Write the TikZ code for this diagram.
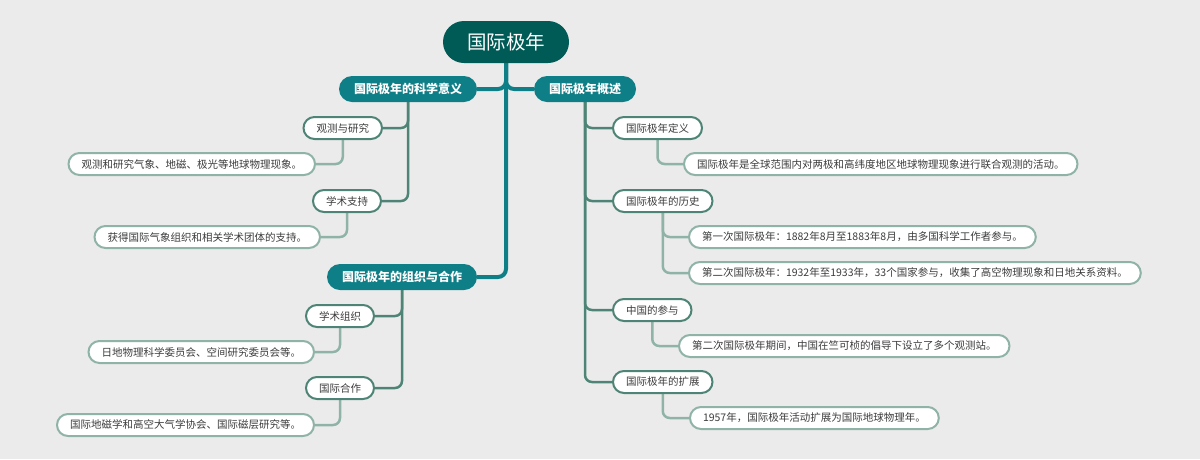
\documentclass[tikz,border=0pt]{standalone}
\usepackage{fontspec}
\setmainfont{Noto Sans CJK SC}
\usetikzlibrary{backgrounds}
\definecolor{bgcol}{RGB}{235,235,235}
\definecolor{rootfill}{RGB}{0,90,85}
\definecolor{branchfill}{RGB}{15,127,135}
\definecolor{subline}{RGB}{78,132,117}
\definecolor{leafline}{RGB}{143,179,166}
\definecolor{txtcol}{RGB}{60,60,60}
\begin{document}
\begin{tikzpicture}[x = 1pt, y = -1pt,
  root/.style = {fill = rootfill, text = white, rounded corners = 21pt, minimum height = 42pt, inner xsep = 24pt, font = \fontsize{19.5}{20}\selectfont},
  branch/.style = {fill = branchfill, text = white, rounded corners = 13pt, minimum height = 26pt, inner xsep = 15pt, font = \bfseries\fontsize{12}{13}\selectfont},
  topic/.style = {draw = subline, line width = 2pt, fill = white, text = txtcol, rounded corners = 11pt, minimum height = 22pt, inner xsep = 13pt, font = \fontsize{10.5}{11}\selectfont},
  leaf/.style = {topic, draw = leafline},
  trunk/.style = {draw = branchfill, line width = 4pt, rounded corners = 8pt},
  subwire/.style = {draw = subline, line width = 2.5pt, rounded corners = 7pt},
  leafwire/.style = {draw = leafline, line width = 2.5pt, rounded corners = 7pt}]
\begin{scope}[on background layer]
\fill[bgcol] (0,0) rectangle (1200,459);
\end{scope}
\useasboundingbox (0,0) rectangle (1200,459);
% root and main branches
\node[root] (root) at (506,42) {国际极年};
\node[branch] (b1) at (408,89) {国际极年的科学意义};
\node[branch] (b2) at (585,89) {国际极年概述};
\node[branch] (b3) at (402,277) {国际极年的组织与合作};
% left side
\node[topic, anchor = east] (c1) at (383,128) {观测与研究};
\node[leaf, anchor = east] (l1) at (316,164) {观测和研究气象、地磁、极光等地球物理现象。};
\node[topic, anchor = east] (c2) at (382,201) {学术支持};
\node[leaf, anchor = east] (l2) at (321,237) {获得国际气象组织和相关学术团体的支持。};
\node[topic, anchor = east] (c3) at (375,316) {学术组织};
\node[leaf, anchor = east] (l3) at (315,352) {日地物理科学委员会、空间研究委员会等。};
\node[topic, anchor = east] (c4) at (375,388) {国际合作};
\node[leaf, anchor = east] (l4) at (315,425) {国际地磁学和高空大气学协会、国际磁层研究等。};
% right side
\node[topic, anchor = west] (d1) at (612,128) {国际极年定义};
\node[leaf, anchor = west] (m1) at (683,164) {国际极年是全球范围内对两极和高纬度地区地球物理现象进行联合观测的活动。};
\node[topic, anchor = west] (d2) at (612,201) {国际极年的历史};
\node[leaf, anchor = west] (m2) at (688,237) {第一次国际极年：1882年8月至1883年8月，由多国科学工作者参与。};
\node[leaf, anchor = west] (m3) at (688,273) {第二次国际极年：1932年至1933年，33个国家参与，收集了高空物理现象和日地关系资料。};
\node[topic, anchor = west] (d3) at (612,310) {中国的参与};
\node[leaf, anchor = west] (m4) at (678,346) {第二次国际极年期间，中国在竺可桢的倡导下设立了多个观测站。};
\node[topic, anchor = west] (d4) at (612,382) {国际极年的扩展};
\node[leaf, anchor = west] (m5) at (689,418) {1957年，国际极年活动扩展为国际地球物理年。};
% connectors
\begin{scope}[on background layer]
\draw[trunk] (root.south) |- (b1.east);
\draw[trunk] (root.south) |- (b2.west);
\draw[trunk] (root.south) |- (b3.east);
\draw[subwire] (b1.south) |- (c1.east);
\draw[subwire] (b1.south) |- (c2.east);
\draw[subwire] (b3.south) |- (c3.east);
\draw[subwire] (b3.south) |- (c4.east);
\draw[subwire] (b2.south) |- (d1.west);
\draw[subwire] (b2.south) |- (d2.west);
\draw[subwire] (b2.south) |- (d3.west);
\draw[subwire] (b2.south) |- (d4.west);
\draw[leafwire] (c1.south) |- (l1.east);
\draw[leafwire] (c2.south) |- (l2.east);
\draw[leafwire] (c3.south) |- (l3.east);
\draw[leafwire] (c4.south) |- (l4.east);
\draw[leafwire] (d1.south) |- (m1.west);
\draw[leafwire] (d2.south) |- (m2.west);
\draw[leafwire] (d2.south) |- (m3.west);
\draw[leafwire] (d3.south) |- (m4.west);
\draw[leafwire] (d4.south) |- (m5.west);
\end{scope}
\end{tikzpicture}
\end{document}
